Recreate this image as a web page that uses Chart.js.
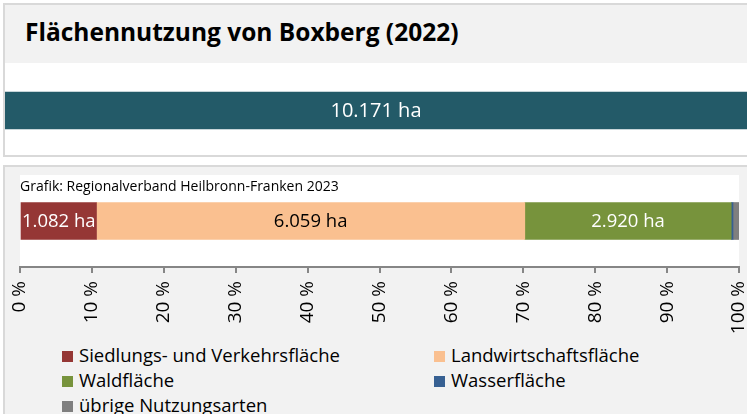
<!DOCTYPE html>
<html lang="de">
<head>
<meta charset="utf-8">
<title>Flächennutzung von Boxberg (2022)</title>
<script src="https://cdn.jsdelivr.net/npm/chart.js@4/dist/chart.umd.min.js"></script>
<style>
    body { margin: 0; background: #fff; width: 747px; height: 414px; overflow: hidden; position: relative; font-family: "Open Sans", Lato, sans-serif; }
    .panel { position: absolute; left: 3px; border: 2px solid #d9d9d9; box-sizing: border-box; }
    #top { top: 3px; width: 760px; height: 154px; background: #fff; }
    #head { position: absolute; left: 0; top: 0; right: 0; height: 58px; background: #f2f2f2; }
    #head h1 { margin: 0; position: absolute; left: 20px; top: 12px; font-size: 24.5px; line-height: 30px; font-weight: 700; color: #000; }
    #bottom { top: 165px; width: 760px; height: 260px; background: #f2f2f2; }
    #totalChart { position: absolute; left: 5px; top: 63px; }
    #shareChart { position: absolute; left: 0; top: 165px; }
    #source { position: absolute; left: 20px; top: 177px; font-size: 14px; line-height: 18px; color: #000; }
    #legend { position: absolute; left: 62px; top: 343px; display: grid; grid-template-columns: 372px 300px; row-gap: 1px; font-size: 18.5px; color: #000; }
    #legend div { height: 24px; line-height: 24px; white-space: nowrap; }
    #legend span { display: inline-block; width: 11px; height: 11px; margin-right: 6px; vertical-align: 0px; }
</style>
</head>
<body>
<div class="panel" id="top"><div id="head"><h1>Flächennutzung von Boxberg (2022)</h1></div></div>
<div class="panel" id="bottom"></div>
<canvas id="totalChart" width="742" height="92"></canvas>
<canvas id="shareChart" width="760" height="170"></canvas>
<div id="source">Grafik: Regionalverband Heilbronn-Franken 2023</div>
<div id="legend"></div>
<script>
// Flächen in ha
var categories = ["Siedlungs- und Verkehrsfläche", "Landwirtschaftsfläche", "Waldfläche", "Wasserfläche", "übrige Nutzungsarten"];
var hectares = [1082, 6059, 2920, 25, 85];
var colors = ["#953735", "#fac090", "#77933c", "#376092", "#7f7f7f"];
var labelColors = ["#fff", "#000", "#fff", "#fff", "#fff"];
var totalHa = 10171;
var tickValues = [0, 10, 20, 30, 40, 50, 60, 70, 80, 90, 100];

function fmtHa(v) {
    return String(v).replace(/\B(?=(\d{3})+(?!\d))/g, ".") + " ha";
}

// Beschriftung mitten in den Balken
var barLabels = {
    id: "barLabels",
    afterDatasetsDraw: function (chart, args, opts) {
        var ctx = chart.ctx;
        ctx.save();
        ctx.font = opts.size + "px 'Open Sans'";
        ctx.textAlign = "center";
        ctx.textBaseline = "middle";
        chart.data.datasets.forEach(function (ds, i) {
            var bar = chart.getDatasetMeta(i).data[0];
            var w = Math.abs(bar.x - bar.base);
            var txt = fmtHa(ds.ha);
            if (ctx.measureText(txt).width > w + 4) return;
            ctx.fillStyle = ds.labelColor;
            ctx.fillText(txt, (bar.x + bar.base) / 2, bar.y + 1);
        });
        ctx.restore();
    }
};

// weißer Hintergrund der Zeichenfläche
var plotBg = {
    id: "plotBg",
    beforeDraw: function (chart) {
        var a = chart.chartArea;
        chart.ctx.save();
        chart.ctx.fillStyle = "#fff";
        chart.ctx.fillRect(a.left, a.top, a.right - a.left, a.bottom - a.top);
        chart.ctx.restore();
    }
};

new Chart(document.getElementById("totalChart"), {
    type: "bar",
    data: {
        labels: ["Gesamt"],
        datasets: [{ data: [totalHa], ha: totalHa, labelColor: "#fff", backgroundColor: "#235a68", barThickness: 37 }]
    },
    options: {
        indexAxis: "y",
        responsive: false,
        animation: false,
        layout: { padding: { top: 3 } },
        plugins: { legend: { display: false }, tooltip: { enabled: false }, barLabels: { size: 20 } },
        scales: {
            x: { display: false, min: 0, max: totalHa },
            y: { display: false }
        }
    },
    plugins: [barLabels]
});

var datasets = categories.map(function (c, i) {
    return {
        label: c,
        data: [hectares[i] / totalHa * 100],
        ha: hectares[i],
        labelColor: labelColors[i],
        backgroundColor: colors[i],
        barThickness: 37
    };
});

new Chart(document.getElementById("shareChart"), {
    type: "bar",
    data: { labels: ["Boxberg"], datasets: datasets },
    options: {
        indexAxis: "y",
        responsive: false,
        animation: false,
        layout: { padding: { top: 10, left: 20, right: 21, bottom: 0 } },
        plugins: { legend: { display: false }, tooltip: { enabled: false }, barLabels: { size: 18.5 } },
        scales: {
            x: {
                stacked: true,
                min: 0,
                max: 100,
                afterBuildTicks: function (scale) {
                    scale.ticks = tickValues.map(function (v) { return { value: v }; });
                },
                afterFit: function (scale) {
                    scale.height = 68;
                    scale.paddingLeft = 0;
                    scale.paddingRight = 0;
                },
                grid: { drawOnChartArea: false, drawTicks: true, tickLength: 6, color: "#868686", lineWidth: 2 },
                border: { color: "#868686", width: 2 },
                ticks: {
                    autoSkip: false,
                    minRotation: 90,
                    maxRotation: 90,
                    padding: 8,
                    color: "#000",
                    font: { family: "Open Sans", size: 19 },
                    callback: function (v) { return v + " %"; }
                }
            },
            y: { stacked: true, display: false }
        }
    },
    plugins: [plotBg, barLabels]
});

// Legende in zwei Spalten
var legend = document.getElementById("legend");
categories.forEach(function (c, i) {
    var item = document.createElement("div");
    var box = document.createElement("span");
    box.style.background = colors[i];
    item.appendChild(box);
    item.appendChild(document.createTextNode(c));
    legend.appendChild(item);
});
</script>
</body>
</html>
